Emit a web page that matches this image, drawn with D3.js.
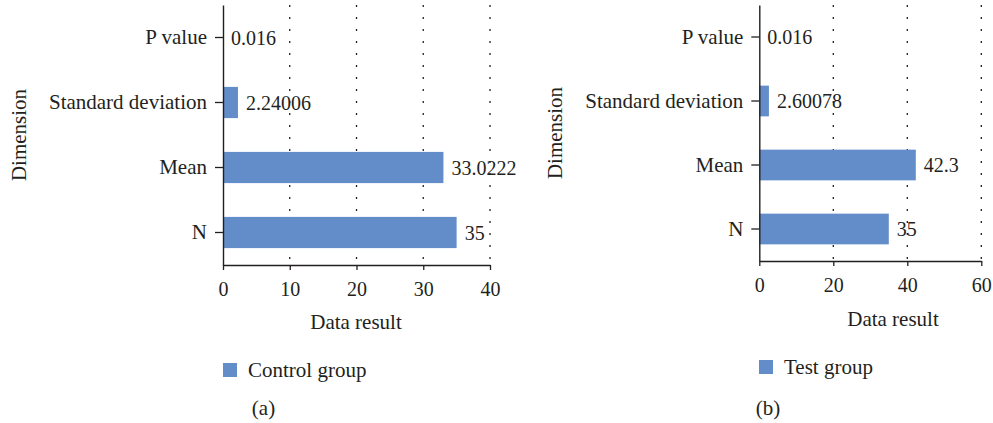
<!DOCTYPE html>
<html>
<head>
<meta charset="utf-8">
<script src="https://cdn.jsdelivr.net/npm/d3@7/dist/d3.min.js"></script>
</head>
<body style="margin:0;background:#fff">
<svg id="chart" width="993" height="423" font-family="Liberation Serif"></svg>
<script>
// Dimensions shown on the vertical axis (top to bottom)
const dimensions = ["P value", "Standard deviation", "Mean", "N"];

// Control group results
const controlValues = [0.016, 2.24006, 33.0222, 35];
const controlLabels = ["0.016", "2.24006", "33.0222", "35"];
const controlTicks = [0, 10, 20, 30, 40];

// Test group results
const testValues = [0.016, 2.60078, 42.3, 35];
const testLabels = ["0.016", "2.60078", "42.3", "35"];
const testTicks = [0, 20, 40, 60];

const barColor = "#638dc9";
const inkColor = "#231f20";
const fontFamily = "Liberation Serif";
const wordSize = 21;   // category names, titles, legend
const numberSize = 20; // tick numbers and value labels

const svg = d3.select("#chart");

function addText(g, size) {
  return g.append("text")
    .attr("font-family", fontFamily)
    .attr("font-size", size)
    .attr("fill", inkColor);
}

function drawPanel(cfg) {
  const g = svg.append("g");

  const x = d3.scaleLinear()
    .domain([0, cfg.ticks[cfg.ticks.length - 1]])
    .range([cfg.left, cfg.right]);

  const y = d3.scaleBand()
    .domain(dimensions)
    .range([cfg.top, cfg.bottom])
    .paddingInner(0.52)
    .paddingOuter(0.26);

  // dotted vertical gridlines
  g.append("g").selectAll("line")
    .data(cfg.ticks.filter(t => t !== 0))
    .join("line")
    .attr("x1", d => x(d)).attr("x2", d => x(d))
    .attr("y1", cfg.top).attr("y2", cfg.bottom)
    .attr("stroke", inkColor)
    .attr("stroke-width", 1.3)
    .attr("stroke-dasharray", "2,10");

  // bars
  g.append("g").selectAll("rect")
    .data(cfg.values)
    .join("rect")
    .attr("x", x(0))
    .attr("y", (d, i) => y(dimensions[i]))
    .attr("width", d => x(d) - x(0))
    .attr("height", y.bandwidth())
    .attr("fill", barColor);

  // value labels
  g.append("g").selectAll("text")
    .data(cfg.values)
    .join("text")
    .attr("font-family", fontFamily)
    .attr("font-size", numberSize)
    .attr("fill", inkColor)
    .attr("x", d => x(d) + 8)
    .attr("y", (d, i) => y(dimensions[i]) + y.bandwidth() / 2)
    .attr("dy", "0.35em")
    .text((d, i) => cfg.labels[i]);

  // x axis
  const xAxis = g.append("g")
    .attr("transform", `translate(0,${cfg.bottom})`)
    .call(d3.axisBottom(x).tickValues(cfg.ticks).tickSize(5).tickSizeOuter(0).tickPadding(12).tickFormat(d3.format("d")));

  // y axis
  const yAxis = g.append("g")
    .attr("transform", `translate(${cfg.left},0)`)
    .call(d3.axisLeft(y).tickSize(8).tickSizeOuter(0).tickPadding(8));

  [xAxis, yAxis].forEach(a => {
    a.attr("font-family", fontFamily);
    a.selectAll("path.domain").attr("stroke", inkColor).attr("stroke-width", 1.4);
    a.selectAll(".tick line").attr("stroke", inkColor).attr("stroke-width", 1.3);
    a.selectAll(".tick text").attr("fill", inkColor).attr("font-family", fontFamily);
  });
  xAxis.attr("font-size", numberSize).selectAll(".tick text").attr("font-size", numberSize);
  yAxis.attr("font-size", wordSize).selectAll(".tick text").attr("font-size", wordSize);

  // axis titles
  addText(g, wordSize)
    .attr("transform", `translate(${cfg.dimX},${(cfg.top + cfg.bottom) / 2}) rotate(-90)`)
    .attr("text-anchor", "middle")
    .attr("dy", "0.35em")
    .text("Dimension");

  addText(g, wordSize)
    .attr("x", cfg.titleX)
    .attr("y", cfg.titleY)
    .attr("text-anchor", "middle")
    .attr("dy", "0.35em")
    .text("Data result");

  // legend
  g.append("rect")
    .attr("x", cfg.legendX).attr("y", cfg.legendY - 7)
    .attr("width", 14).attr("height", 14)
    .attr("fill", barColor);
  addText(g, wordSize)
    .attr("x", cfg.legendX + 25)
    .attr("y", cfg.legendY)
    .attr("dy", "0.35em")
    .text(cfg.name);

  // panel caption
  addText(g, wordSize)
    .attr("x", cfg.captionX)
    .attr("y", 408)
    .attr("text-anchor", "middle")
    .attr("dy", "0.35em")
    .text(cfg.caption);
}

drawPanel({
  values: controlValues, labels: controlLabels, ticks: controlTicks,
  left: 223, right: 490, top: 5, bottom: 265,
  dimX: 19, titleX: 356, titleY: 322,
  legendX: 223, legendY: 370, name: "Control group",
  captionX: 263.5, caption: "(a)"
});

drawPanel({
  values: testValues, labels: testLabels, ticks: testTicks,
  left: 759.3, right: 981.3, top: 5, bottom: 261,
  dimX: 555, titleX: 893, titleY: 319,
  legendX: 759, legendY: 367, name: "Test group",
  captionX: 768, caption: "(b)"
});
</script>
</body>
</html>
